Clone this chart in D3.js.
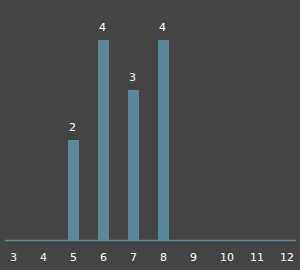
<!DOCTYPE html>
<html>
<head>
<meta charset="utf-8">
<script src="https://cdn.jsdelivr.net/npm/d3@7"></script>
<style>
  body { margin: 0; background: #444444; }
  svg { display: block; }
</style>
</head>
<body>
<div id="chart"></div>
<script>
var categories = [5, 6, 7, 8];
var values = [2, 4, 3, 4];
var tickValues = [3, 4, 5, 6, 7, 8, 9, 10, 11, 12];

var drawChart = (function () {
    const width = 300;
    const height = 270;
    const barWidth = 11;
    const colour = "#5b8995";

    var svg = d3.select("#chart")
        .append("svg")
        .attr("width", width)
        .attr("height", height);

    svg.append("rect")
        .attr("width", width)
        .attr("height", height)
        .attr("fill", "#444444");

    var x = d3.scaleLinear().domain([3, 12]).range([13.5, 283.5]);
    var y = d3.scaleLinear().domain([0, 4]).range([240, 40]);

    var data = categories.map(function (c, i) { return { cat: c, val: values[i] }; });

    svg.selectAll("rect.bar")
        .data(data)
        .enter()
        .append("rect")
        .attr("class", "bar")
        .attr("x", function (d) { return x(d.cat) - barWidth / 2 })
        .attr("y", function (d) { return y(d.val) })
        .attr("width", barWidth)
        .attr("height", function (d) { return y(0) - y(d.val) })
        .attr("fill", colour);

    svg.selectAll("text.val")
        .data(data)
        .enter()
        .append("text")
        .attr("class", "val")
        .attr("x", function (d) { return x(d.cat) - 1 })
        .attr("y", function (d) { return y(d.val) - 9 })
        .attr("text-anchor", "middle")
        .attr("fill", "#ffffff")
        .style("font", "11px 'DejaVu Sans', sans-serif")
        .text(function (d) { return d.val });

    // axis line
    svg.append("line")
        .attr("x1", 5)
        .attr("x2", 296)
        .attr("y1", y(0) + 0.5)
        .attr("y2", y(0) + 0.5)
        .attr("stroke", colour)
        .attr("stroke-width", 1.5);

    svg.selectAll("text.tick")
        .data(tickValues)
        .enter()
        .append("text")
        .attr("class", "tick")
        .attr("x", function (d) { return x(d) - 3.5 })
        .attr("y", 261)
        .attr("fill", "#ffffff")
        .style("font", "11px 'DejaVu Sans', sans-serif")
        .text(function (d) { return d });
}());
</script>
</body>
</html>
